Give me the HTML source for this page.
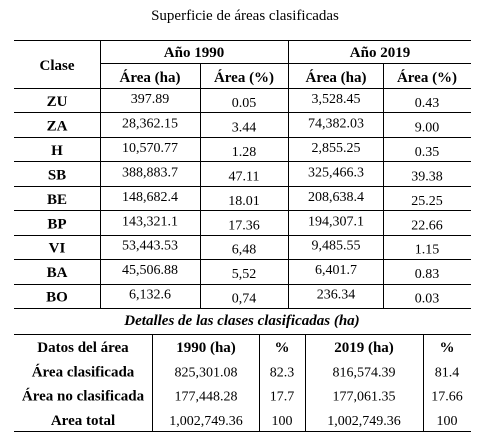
<!DOCTYPE html>
<html><head><meta charset="utf-8"><style>
body{margin:0;background:#fff;width:484px;height:434px;overflow:hidden}
svg{display:block;font-family:"Liberation Serif",serif;font-size:14px;fill:#000}
.b{font-weight:bold;font-size:15px}
</style></head><body>
<svg width="484" height="434">
<text x="245" y="20" text-anchor="middle" font-size="15">Superficie de áreas clasificadas</text>
<g stroke="#000" stroke-width="1" id="lines">
<line x1="14" y1="40.5" x2="471" y2="40.5"/>
<line x1="100" y1="63.5" x2="471" y2="63.5"/>
<line x1="100.5" y1="40" x2="100.5" y2="308"/>
<line x1="288.5" y1="40" x2="288.5" y2="308"/>
<line x1="200.5" y1="63" x2="200.5" y2="308"/>
<line x1="383.5" y1="63" x2="383.5" y2="308"/>
<line x1="14" y1="334.5" x2="471" y2="334.5"/>
<line x1="14" y1="431.5" x2="471" y2="431.5"/>
<line x1="152.5" y1="334" x2="152.5" y2="431"/>
<line x1="259.5" y1="334" x2="259.5" y2="431"/>
<line x1="305.5" y1="334" x2="305.5" y2="431"/>
<line x1="423.5" y1="334" x2="423.5" y2="431"/>
</g>
<text class="b" x="57" y="70" text-anchor="middle">Clase</text>
<text class="b" x="194" y="57" text-anchor="middle">Año 1990</text>
<text class="b" x="380" y="57" text-anchor="middle">Año 2019</text>
<text class="b" x="150" y="82" text-anchor="middle">Área (ha)</text>
<text class="b" x="244" y="82" text-anchor="middle">Área (%)</text>
<text class="b" x="336" y="82" text-anchor="middle">Área (ha)</text>
<text class="b" x="427" y="82" text-anchor="middle">Área (%)</text>
<g id="rows"></g>
<text x="242" y="325" text-anchor="middle" class="b" font-style="italic">Detalles de las clases clasificadas (ha)</text>
<g id="rows2"></g>
</svg>
<script>
const classes=["ZU","ZA","H","SB","BE","BP","VI","BA","BO"];
const ha1990=["397.89","28,362.15","10,570.77","388,883.7","148,682.4","143,321.1","53,443.53","45,506.88","6,132.6"];
const pct1990=["0.05","3.44","1.28","47.11","18.01","17.36","6,48","5,52","0,74"];
const ha2019=["3,528.45","74,382.03","2,855.25","325,466.3","208,638.4","194,307.1","9,485.55","6,401.7","236.34"];
const pct2019=["0.43","9.00","0.35","39.38","25.25","22.66","1.15","0.83","0.03"];
const detLabels=["Datos del área","Área clasificada","Área no clasificada","Area total"];
const det1990=["1990 (ha)","825,301.08","177,448.28","1,002,749.36"];
const detP1990=["%","82.3","17.7","100"];
const det2019=["2019 (ha)","816,574.39","177,061.35","1,002,749.36"];
const detP2019=["%","81.4","17.66","100"];
const NS="http://www.w3.org/2000/svg";
function t(g,x,y,s,bold){const e=document.createElementNS(NS,"text");e.setAttribute("x",x);e.setAttribute("y",y);e.setAttribute("text-anchor","middle");if(bold)e.setAttribute("class","b");e.textContent=s;g.appendChild(e);return e;}
function l(g,x1,y1,x2,y2){const e=document.createElementNS(NS,"line");e.setAttribute("x1",x1);e.setAttribute("y1",y1);e.setAttribute("x2",x2);e.setAttribute("y2",y2);e.setAttribute("stroke","#000");g.appendChild(e);}
const g=document.getElementById("rows");
const top0=88,rh=24.45;
classes.forEach((c,i)=>{
 const y=top0+i*rh;
 l(g,14,Math.round(y)+0.5,471,Math.round(y)+0.5);
 let e=t(g,57,y+18,c,true);
 
 
 e=t(g,150,y+15,ha1990[i]);
 
 
 e=t(g,244,y+19,pct1990[i]);
 
 
 e=t(g,336,y+15,ha2019[i]);
 
 
 e=t(g,427,y+19,pct2019[i]);
 
 
});
l(g,14,308.5,471,308.5);
const g2=document.getElementById("rows2");
detLabels.forEach((s,i)=>{
 const y=334+i*24.3;
 const b=i==0;
 let e=t(g2,83,y+18,s,true);
 
 
 e=t(g2,206,y+18,det1990[i],b);
 
 
 e=t(g2,282,y+18,detP1990[i],b);
 
 
 e=t(g2,364,y+18,det2019[i],b);
 
 
 e=t(g2,447,y+18,detP2019[i],b);
 
 
});
</script>
</body></html>
